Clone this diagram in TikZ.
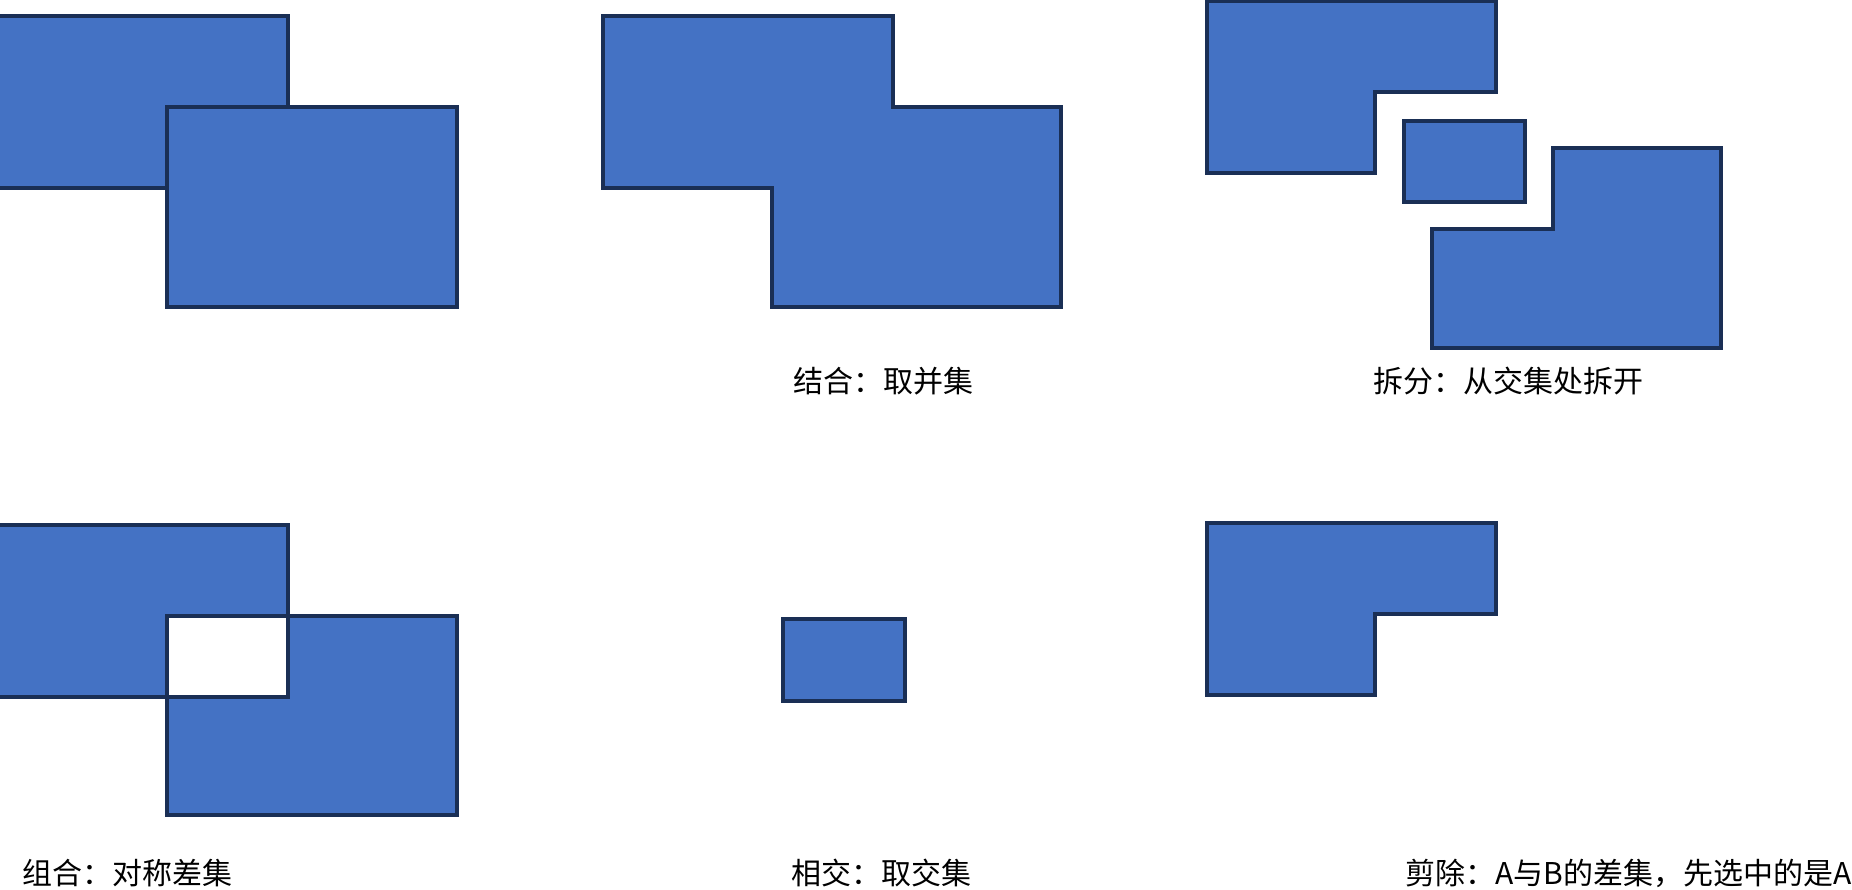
\documentclass[tikz,border=0pt]{standalone}
\usepackage{fontspec}
\newfontfamily\cjk{Noto Sans CJK SC}
\definecolor{shapefill}{HTML}{4472C4}
\definecolor{shapeline}{HTML}{1A2F55}
\begin{document}
\begin{tikzpicture}[x=1pt,y=-1pt,
  shp/.style={fill=shapefill,draw=shapeline,line width=4pt,line join=miter},
  outl/.style={draw=shapeline,line width=4pt,line join=miter},
  lbl/.style={anchor=base west,inner sep=0pt,font=\cjk\fontsize{30}{36}\selectfont,text=black}]
\useasboundingbox (0,0) rectangle (1852,890);
% Panel 1: two overlapping rectangles
\path[shp] (-2,16) rectangle (288,188);
\path[shp] (167,107) rectangle (457,307);
% Panel 2: union
\path[shp] (603,16) -- (893,16) -- (893,107) -- (1061,107) -- (1061,307) -- (772,307) -- (772,188) -- (603,188) -- cycle;
\node[lbl] (t2) at (793,392) {结合：取并集};
% Panel 3: split
\path[shp] (1207,1.5) -- (1496,1.5) -- (1496,92) -- (1375,92) -- (1375,173) -- (1207,173) -- cycle;
\path[shp] (1404,121) rectangle (1525,202);
\path[shp] (1553,148) -- (1721,148) -- (1721,348) -- (1432,348) -- (1432,229) -- (1553,229) -- cycle;
\node[lbl] (t3) at (1373,392) {拆分：从交集处拆开};
% Panel 4: symmetric difference
\fill[shapefill] (-2,525) rectangle (288,697);
\fill[shapefill] (167,616) rectangle (457,815);
\fill[white] (167,616) rectangle (288,697);
\path[outl] (-2,525) rectangle (288,697);
\path[outl] (167,616) rectangle (457,815);
\node[lbl] (t4) at (22,884) {组合：对称差集};
% Panel 5: intersection
\path[shp] (783,619) rectangle (905,701);
\node[lbl] (t5) at (791,884) {相交：取交集};
% Panel 6: subtract
\path[shp] (1207,523) -- (1496,523) -- (1496,614) -- (1375,614) -- (1375,695) -- (1207,695) -- cycle;
\node[lbl] (t6) at (1405,884) {剪除：A与B的差集，先选中的是A};
\end{tikzpicture}
\end{document}
